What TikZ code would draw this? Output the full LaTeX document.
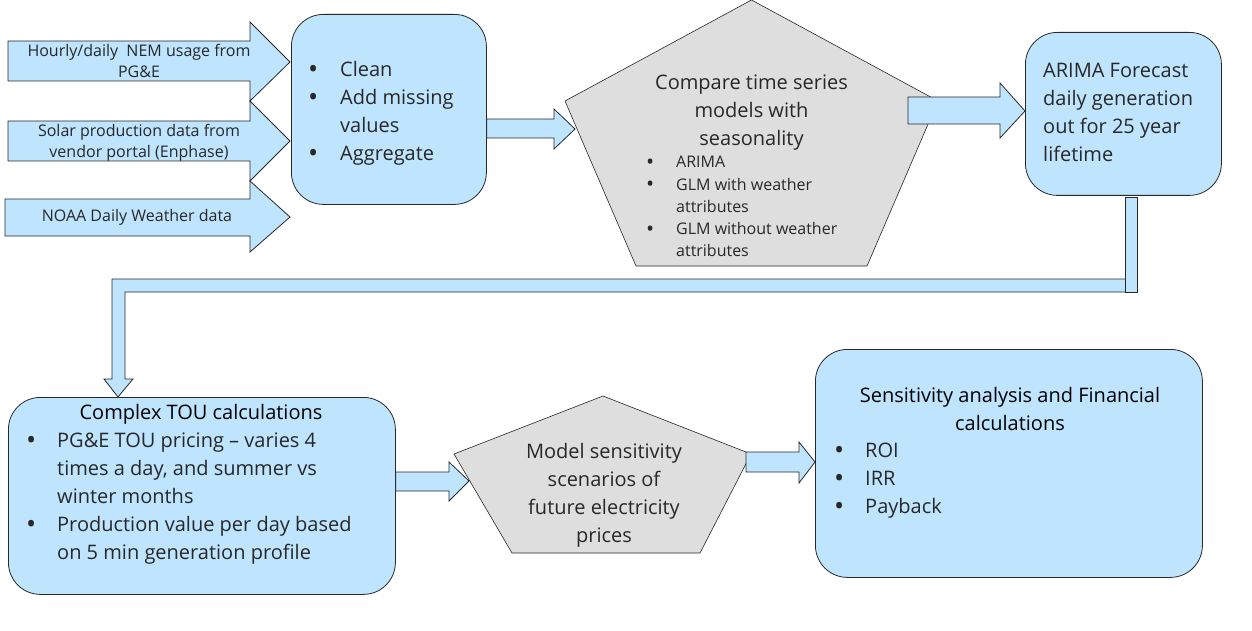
\documentclass[tikz,border=0pt]{standalone}
\usepackage{fontspec}
\setmainfont{Open Sans}
\definecolor{lblue}{RGB}{190,228,254}
\definecolor{lgray}{RGB}{222,222,222}
\definecolor{tcol}{RGB}{40,40,40}
\definecolor{ecol}{RGB}{40,40,40}
\newcommand\bul{\hfil\raisebox{-0.1em}{\scalebox{1.35}{•}}\hfil}
\begin{document}
\begin{tikzpicture}[x=1pt,y=-1pt,
  bluebox/.style={draw=ecol, fill=lblue, line width=0.8pt, rounded corners=32pt, inner sep=0pt, anchor=north west},
  pent/.style={draw=ecol, fill=lgray, line width=0.6pt},
  barrow/.style={draw=ecol, fill=lblue, line width=0.8pt, line join=miter},
  bigtxt/.style={text=tcol, inner sep=0pt, font=\fontsize{20}{28}\selectfont},
  midtxt/.style={text=tcol, inner sep=0pt, font=\fontsize{16}{22.2}\selectfont},
  smtxt/.style={text=tcol, inner sep=0pt, font=\fontsize{16}{21}\selectfont},
]
\useasboundingbox (0,0) rectangle (1252,631);

% ---------- boxes ----------
\node[bluebox, minimum width=195pt, minimum height=190pt] (clean) at (291,14) {};
\node[bluebox, minimum width=196pt, minimum height=163pt] (arima) at (1025,32) {};
\node[bluebox, minimum width=387pt, minimum height=197pt] (tou) at (8,397) {};
\node[bluebox, minimum width=387pt, minimum height=228pt] (sens) at (815,349) {};

% ---------- pentagons ----------
\draw[pent] (751.5,0) -- (938,101) -- (867,266) -- (636,266) -- (565,101) -- cycle;
\coordinate (p1) at (751.5,133);
\draw[pent] (603,396) -- (751,454) -- (700,553) -- (512,553) -- (454,454) -- cycle;
\coordinate (p2) at (603,475);

% ---------- input arrows ----------
\draw[barrow] (8,41) -- (250,41) -- (250,22) -- (290,62) -- (250,101) -- (250,81) -- (8,81) -- cycle;
\draw[barrow] (8,121) -- (250,121) -- (250,101) -- (290,141) -- (250,181) -- (250,161) -- (8,161) -- cycle;
\draw[barrow] (5,199) -- (250,199) -- (250,181) -- (290,217) -- (250,252) -- (250,236) -- (5,236) -- cycle;

% ---------- flow arrows ----------
\draw[barrow] (clean.east |- 0,119) -- (554,119) -- (554,109) -- (575,129) -- (554,149) -- (554,138) -- (clean.east |- 0,138) -- cycle;
\draw[barrow] (908,97) -- (1000,97) -- (1000,83) -- (arima.west |- 0,111) -- (1000,138) -- (1000,124) -- (908,124) -- cycle;
\draw[barrow] (112,279) -- (1137,279) -- (1137,292) -- (125,292) -- (125,379) -- (133,379) -- (tou.north -| 118,0) -- (104,379) -- (112,379) -- cycle;
\draw[barrow] (1125,197) rectangle (1137,292);
\draw[barrow] (tou.east |- 0,472) -- (449,472) -- (449,462) -- (469,481) -- (449,501) -- (449,491) -- (tou.east |- 0,491) -- cycle;
\draw[barrow] (746,452) -- (799,452) -- (799,442) -- (sens.west |- 0,462) -- (799,483) -- (799,472) -- (746,472) -- cycle;

% ---------- texts ----------
\node[smtxt, anchor=base] (in1) at (139,57) {\begin{tabular}[t]{@{}c@{}}Hourly/daily\ \ NEM usage from\\PG\&E\end{tabular}};
\node[smtxt, anchor=base] (in2) at (139,137) {\begin{tabular}[t]{@{}c@{}}Solar production data from\\vendor portal (Enphase)\end{tabular}};
\node[smtxt, anchor=base] (in3) at (137,222) {NOAA Daily Weather data};

\node[bigtxt, anchor=base west] (cleantxt) at (286,77) {\begin{tabular}[t]{@{}p{54pt}@{}l@{}}\bul & Clean\\ \bul & Add missing\\ & values\\ \bul & Aggregate\end{tabular}};

\node[bigtxt, anchor=base] (p1title) at (751.5,90) {\begin{tabular}[t]{@{}c@{}}Compare time series\\models with\\seasonality\end{tabular}};
\node[midtxt, anchor=base west] (p1list) at (624,168) {\begin{tabular}[t]{@{}p{52pt}@{}l@{}}\bul & ARIMA\\ \bul & GLM with weather\\ & attributes\\ \bul & GLM without weather\\ & attributes\end{tabular}};

\node[bigtxt, anchor=base west] (arimatxt) at (1043,78) {\begin{tabular}[t]{@{}l@{}}ARIMA Forecast\\daily generation\\out for 25 year\\lifetime\end{tabular}};

\node[bigtxt, anchor=base, text=black] (toutitle) at (201,419) {Complex TOU calculations};
\node[bigtxt, anchor=base west] (toulist) at (5,447) {\begin{tabular}[t]{@{}p{52pt}@{}l@{}}\bul & PG\&E TOU pricing – varies 4\\ & times a day, and summer vs\\ & winter months\\ \bul & Production value per day based\\ & on 5 min generation profile\end{tabular}};

\node[bigtxt, anchor=base] (p2txt) at (604,458) {\begin{tabular}[t]{@{}c@{}}Model sensitivity\\scenarios of\\future electricity\\prices\end{tabular}};

\node[bigtxt, anchor=base, text=black] (senstitle) at (1010,402) {\begin{tabular}[t]{@{}c@{}}Sensitivity analysis and Financial\\calculations\end{tabular}};
\node[bigtxt, anchor=base west] (senslist) at (813,457) {\begin{tabular}[t]{@{}p{52pt}@{}l@{}}\bul & ROI\\ \bul & IRR\\ \bul & Payback\end{tabular}};
\end{tikzpicture}
\end{document}
